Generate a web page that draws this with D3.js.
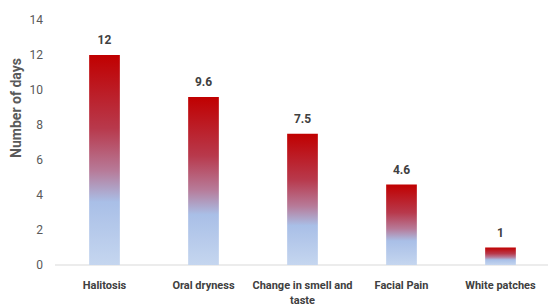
<!DOCTYPE html>
<html>
<head>
<meta charset="utf-8">
<script src="https://cdn.jsdelivr.net/npm/d3@7"></script>
<style>
  body { margin: 0; background: #fff; }
  svg text { font-family: Roboto, "Open Sans", sans-serif; }
</style>
</head>
<body>
<div id="chart"></div>
<script>
const categories = ["Halitosis", "Oral dryness", "Change in smell and taste", "Facial Pain", "White patches"];
const values = [12, 9.6, 7.5, 4.6, 1];
const valueLabels = ["12", "9.6", "7.5", "4.6", "1"];
const yTicks = [0, 2, 4, 6, 8, 10, 12, 14];

const width = 548, height = 307;
const margin = { top: 20, right: -2, bottom: 42, left: 55 };

const svg = d3.select("#chart").append("svg")
  .attr("width", width)
  .attr("height", height);

// vertical gradient, red at top fading to pale blue at the bottom
const grad = svg.append("defs").append("linearGradient")
  .attr("id", "barGrad")
  .attr("x1", 0).attr("y1", 0).attr("x2", 0).attr("y2", 1);
grad.append("stop").attr("offset", "0%").attr("stop-color", "#c00000");
grad.append("stop").attr("offset", "35%").attr("stop-color", "#b8394c");
grad.append("stop").attr("offset", "55%").attr("stop-color", "#b77a98");
grad.append("stop").attr("offset", "70%").attr("stop-color", "#a9bfe7");
grad.append("stop").attr("offset", "100%").attr("stop-color", "#c5d6ef");

const x = d3.scaleBand()
  .domain(categories)
  .range([margin.left, width - margin.right])
  .paddingInner(0.69)
  .paddingOuter(0.345);

const y = d3.scaleLinear()
  .domain([0, 14])
  .range([height - margin.bottom, margin.top]);

// y axis tick labels
svg.append("g")
  .attr("transform", `translate(${margin.left},0)`)
  .call(d3.axisLeft(y).tickValues(yTicks).tickSize(0).tickPadding(12))
  .call(g => g.select(".domain").remove())
  .call(g => g.selectAll("text")
    .attr("fill", "#595959")
    .style("font-size", "12px"));

// baseline
svg.append("line")
  .attr("x1", margin.left).attr("x2", width)
  .attr("y1", y(0)).attr("y2", y(0))
  .attr("stroke", "#d9d9d9")
  .attr("stroke-width", 1);

// bars
svg.append("g")
  .selectAll("rect")
  .data(values)
  .join("rect")
  .attr("x", (d, i) => x(categories[i]))
  .attr("y", d => y(d))
  .attr("width", x.bandwidth())
  .attr("height", d => y(0) - y(d))
  .attr("fill", "url(#barGrad)");

// value labels
svg.append("g")
  .selectAll("text")
  .data(values)
  .join("text")
  .attr("x", (d, i) => x(categories[i]) + x.bandwidth() / 2)
  .attr("y", d => y(d) - 11)
  .attr("text-anchor", "middle")
  .attr("fill", "#404040")
  .style("font-size", "12px")
  .style("font-weight", "bold")
  .text((d, i) => valueLabels[i]);

// category labels (wrap long one)
const catG = svg.append("g")
  .selectAll("text")
  .data(categories)
  .join("text")
  .attr("x", d => x(d) + x.bandwidth() / 2)
  .attr("y", y(0) + 24)
  .attr("text-anchor", "middle")
  .attr("fill", "#404040")
  .style("font-size", "11px")
  .style("font-weight", "bold");

catG.each(function (d) {
  const t = d3.select(this);
  const lines = d === "Change in smell and taste" ? ["Change in smell and", "taste"] : [d];
  lines.forEach((l, i) => {
    t.append("tspan")
      .attr("x", t.attr("x"))
      .attr("dy", i === 0 ? 0 : 15)
      .text(l);
  });
});

// y axis title
svg.append("text")
  .attr("transform", "translate(21,108) rotate(-90)")
  .attr("text-anchor", "middle")
  .attr("fill", "#595959")
  .style("font-size", "14px")
  .style("font-weight", "bold")
  .text("Number of days");
</script>
</body>
</html>
